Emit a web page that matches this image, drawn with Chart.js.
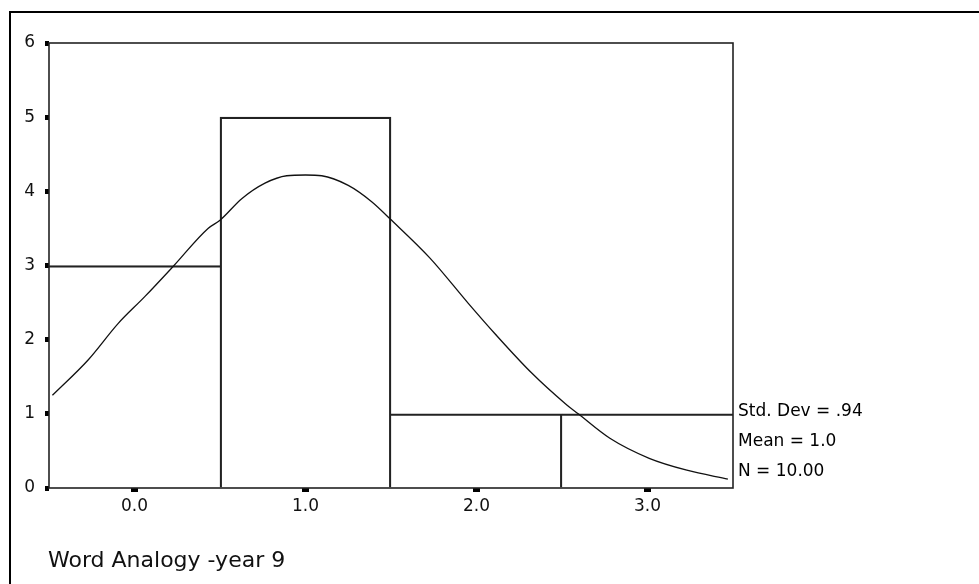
<!DOCTYPE html>
<html>
<head>
<meta charset="utf-8">
<script src="https://cdn.jsdelivr.net/npm/chart.js@4/dist/chart.umd.min.js"></script>
<style>
  html, body { margin: 0; padding: 0; background: #fff; }
  #wrap { width: 979px; height: 584px; position: relative; }
</style>
</head>
<body>
<div id="wrap"><canvas id="c" width="979" height="584"></canvas></div>
<script>
// Histogram of word analogy scores (bins of width 1 centred on whole numbers)
const binCenters = [0, 1, 2, 3];
const counts = [3, 5, 1, 1];

// Fitted normal curve, sampled along the score axis
const curveX = [-0.48, -0.27, -0.095, 0.06, 0.227, 0.43, 0.5, 0.627, 0.763, 0.89, 1.0, 1.095, 1.25, 1.387, 1.494, 1.728, 1.952, 2.108, 2.323, 2.518, 2.595, 2.78, 3.01, 3.23, 3.47];
const curveY = [1.25, 1.73, 2.22, 2.58, 2.99, 3.50, 3.61, 3.90, 4.11, 4.21, 4.22, 4.21, 4.08, 3.86, 3.63, 3.10, 2.49, 2.08, 1.55, 1.14, 1.00, 0.67, 0.40, 0.24, 0.12];

// Axis ticks
const xTickValues = [0, 1, 2, 3];
const xTickLabels = ['0.0', '1.0', '2.0', '3.0'];
const yTickValues = [0, 1, 2, 3, 4, 5, 6];

// Summary statistics and caption
const statLines = ['Std. Dev = .94', 'Mean = 1.0', 'N = 10.00'];
const caption = 'Word Analogy -year 9';

const FONT = "'DejaVu Sans', sans-serif";
const LINE = 1.6;

// Each shared edge between neighbouring bars is drawn once (by the taller bar),
// and edges lying on the plot frame are left to the frame itself.
function barBorder(ctx) {
  const i = ctx.dataIndex;
  const n = counts.length;
  const h = counts[i];
  const left = (i === 0 || counts[i - 1] >= h) ? 0 : LINE;
  const right = (i === n - 1 || counts[i + 1] > h) ? 0 : LINE;
  return { top: LINE, bottom: 0, left, right };
}

const framePlugin = {
  id: 'frame',
  beforeDraw(chart) {
    const ctx = chart.ctx;
    ctx.save();
    ctx.fillStyle = '#fff';
    ctx.fillRect(0, 0, chart.width, chart.height);
    // outer page frame (top and left edges)
    ctx.strokeStyle = '#000';
    ctx.lineWidth = 2;
    ctx.beginPath();
    ctx.moveTo(10, chart.height);
    ctx.lineTo(10, 12);
    ctx.lineTo(chart.width, 12);
    ctx.stroke();
    ctx.restore();
  },
  afterDraw(chart) {
    const ctx = chart.ctx;
    const a = chart.chartArea;
    ctx.save();
    ctx.strokeStyle = '#222';
    ctx.lineWidth = LINE;
    ctx.strokeRect(a.left, a.top, a.right - a.left, a.bottom - a.top);
    ctx.fillStyle = '#000';
    ctx.font = '17px ' + FONT;
    ctx.textBaseline = 'middle';
    ctx.textAlign = 'left';
    statLines.forEach((t, i) => ctx.fillText(t, a.right + 5, 412 + i * 30));
    ctx.font = '22px ' + FONT;
    ctx.textBaseline = 'alphabetic';
    ctx.fillStyle = '#111';
    ctx.fillText(caption, 48, 567);
    ctx.restore();
  }
};

new Chart(document.getElementById('c'), {
  type: 'bar',
  data: {
    datasets: [
      {
        type: 'line',
        data: curveX.map((x, i) => ({ x, y: curveY[i] })),
        borderColor: '#111',
        borderWidth: 1.3,
        pointRadius: 0,
        cubicInterpolationMode: 'monotone',
        fill: false,
        order: 0
      },
      {
        type: 'bar',
        data: binCenters.map((x, i) => ({ x, y: counts[i] })),
        backgroundColor: 'rgba(255,255,255,0)',
        borderColor: '#222',
        borderWidth: barBorder,
        borderSkipped: false,
        barPercentage: 1,
        categoryPercentage: 1,
        order: 1
      }
    ]
  },
  options: {
    responsive: false,
    animation: false,
    events: [],
    layout: { padding: { top: 43, right: 246, left: 0, bottom: 0 } },
    plugins: { legend: { display: false }, tooltip: { enabled: false }, title: { display: false } },
    scales: {
      x: {
        type: 'linear',
        min: -0.5,
        max: 3.5,
        offset: false,
        afterFit(s) { s.height = 96; },
        afterBuildTicks(s) { s.ticks = xTickValues.map(v => ({ value: v })); },
        grid: { display: true, offset: false, drawOnChartArea: false, drawTicks: true, tickLength: 4, tickWidth: 7, tickColor: '#000' },
        border: { display: false },
        ticks: {
          color: '#111',
          font: { family: FONT, size: 17 },
          padding: 4,
          maxRotation: 0,
          autoSkip: false,
          callback: (v) => xTickLabels[xTickValues.indexOf(v)]
        }
      },
      y: {
        type: 'linear',
        min: 0,
        max: 6,
        afterFit(s) { s.width = 49; },
        afterBuildTicks(s) { s.ticks = yTickValues.map(v => ({ value: v })); },
        grid: { display: true, offset: false, drawOnChartArea: false, drawTicks: true, tickLength: 4, tickWidth: 5, tickColor: '#000' },
        border: { display: false },
        ticks: {
          color: '#111',
          font: { family: FONT, size: 17 },
          padding: 10,
          autoSkip: false
        }
      }
    }
  },
  plugins: [framePlugin]
});
</script>
</body>
</html>
